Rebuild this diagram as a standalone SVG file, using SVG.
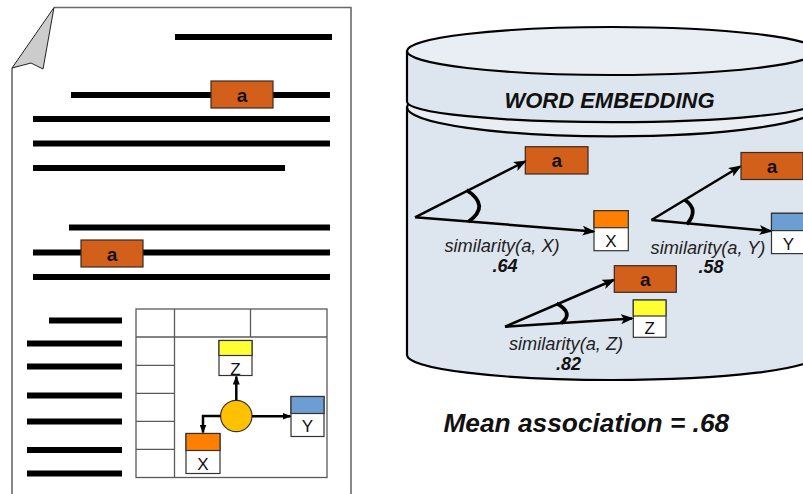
<svg xmlns="http://www.w3.org/2000/svg" width="803" height="494" viewBox="0 0 803 494">
<defs>
<style>
.tl{stroke:#000;stroke-width:6;fill:none}
.abox{fill:#d2601b;stroke:#3a2a20;stroke-width:1.2}
.at{font-family:"Liberation Sans",Arial,sans-serif;font-weight:bold;font-size:19px;fill:#111;text-anchor:middle}
.bt{font-family:"Liberation Sans",Arial,sans-serif;font-size:17px;fill:#111;text-anchor:middle}
.wb{fill:#fff;stroke:#333;stroke-width:1.2}
.sim{font-family:"Liberation Sans",Arial,sans-serif;font-style:italic;font-size:18.2px;fill:#222;text-anchor:middle}
.num{font-family:"Liberation Sans",Arial,sans-serif;font-style:italic;font-weight:bold;font-size:18px;fill:#111;text-anchor:middle}
.arr{stroke:#000;stroke-width:2.5;fill:none;marker-end:url(#ah)}
.arr2{stroke:#000;stroke-width:2.5;fill:none;marker-end:url(#ah2)}
.ang{stroke:#000;stroke-width:3.8;fill:none}
.cyl{stroke:#000;stroke-width:2.2}
.tbl{stroke:#5a5a5a;stroke-width:1.3;fill:none}
</style>
<marker id="ah" viewBox="0 0 13 10" refX="11" refY="5" markerWidth="13" markerHeight="10" markerUnits="userSpaceOnUse" orient="auto">
<path d="M0,0 L13,5 L0,10 L3,5 Z" fill="#000"/>
</marker>
<marker id="ah2" viewBox="0 0 9 7" refX="8" refY="3.5" markerWidth="9" markerHeight="7" markerUnits="userSpaceOnUse" orient="auto">
<path d="M0,0 L9,3.5 L0,7 Z" fill="#000"/>
</marker>
</defs>
<rect width="803" height="494" fill="#fff"/>

<g id="document">
<path d="M54,7.5 L351,7.5 L351,500 L12,500 L12,68" fill="#fff" stroke="#6b6b6b" stroke-width="1.6"/>
<path d="M54,7.5 L12,68 L31,63 L43,69 Z" fill="#cccccc" stroke="#222" stroke-width="1"/>
<line class="tl" x1="175" y1="37" x2="332" y2="37"/>
<line class="tl" x1="71" y1="95" x2="330" y2="95"/>
<line class="tl" x1="33" y1="119" x2="330" y2="119"/>
<line class="tl" x1="33" y1="143.5" x2="330" y2="143.5"/>
<line class="tl" x1="33" y1="168" x2="285" y2="168"/>
<line class="tl" x1="69" y1="227.5" x2="330" y2="227.5"/>
<line class="tl" x1="33" y1="252.5" x2="330" y2="252.5"/>
<line class="tl" x1="33" y1="277" x2="330" y2="277"/>
<line class="tl" x1="49" y1="320.5" x2="122" y2="320.5"/>
<line class="tl" x1="27" y1="343.5" x2="122" y2="343.5"/>
<line class="tl" x1="27" y1="366.5" x2="122" y2="366.5"/>
<line class="tl" x1="27" y1="395.5" x2="122" y2="395.5"/>
<line class="tl" x1="27" y1="421.5" x2="122" y2="421.5"/>
<line class="tl" x1="27" y1="450" x2="122" y2="450"/>
<line class="tl" x1="27" y1="473.5" x2="122" y2="473.5"/>
</g>

<g id="doc-a1">
<rect class="abox" x="211" y="81" width="62" height="27"/>
<text class="at" x="242" y="101.5">a</text>
</g>
<g id="doc-a2">
<rect class="abox" x="81" y="240" width="62" height="27"/>
<text class="at" x="112" y="260.5">a</text>
</g>

<g id="table">
<rect class="tbl" x="136" y="309" width="191" height="168.5"/>
<line class="tbl" x1="136" y1="337" x2="327" y2="337"/>
<line class="tbl" x1="174.5" y1="309" x2="174.5" y2="477.5"/>
<line class="tbl" x1="250.5" y1="309" x2="250.5" y2="337"/>
<line class="tbl" x1="136" y1="365.3" x2="174.5" y2="365.3"/>
<line class="tbl" x1="136" y1="393.3" x2="174.5" y2="393.3"/>
<line class="tbl" x1="136" y1="421.3" x2="174.5" y2="421.3"/>
<line class="tbl" x1="136" y1="449.3" x2="174.5" y2="449.3"/>
</g>

<g id="tbl-z">
<rect class="wb" x="219" y="340.5" width="33" height="35"/>
<rect x="219" y="340.5" width="33" height="15" fill="#ffff33" stroke="#333" stroke-width="1.2"/>
<text class="bt" x="235.5" y="375">Z</text>
</g>
<g id="tbl-y">
<rect class="wb" x="291" y="396.5" width="33" height="40"/>
<rect x="291" y="396.5" width="33" height="17" fill="#6d9ed1" stroke="#333" stroke-width="1.2"/>
<text class="bt" x="307.5" y="432">Y</text>
</g>
<g id="tbl-x">
<rect class="wb" x="186" y="433.5" width="34" height="40"/>
<rect x="186" y="433.5" width="34" height="17" fill="#ff8000" stroke="#333" stroke-width="1.2"/>
<text class="bt" x="203" y="470">X</text>
</g>
<g id="tbl-hub">
<circle cx="236.3" cy="416" r="15.7" fill="#ffc000" stroke="#333" stroke-width="1.2"/>
</g>

<g id="cylinder">
<path class="cyl" d="M407,107.3 L407,355 A205,25 0 0 0 817,355 L817,107.3 Z" fill="#dde5ef"/>
<ellipse class="cyl" cx="612" cy="107.3" rx="205" ry="29" fill="#e9eef4"/>
<path class="cyl" d="M407,51 L407,101.7 A205,20.5 0 0 0 817,101.7 L817,51 Z" fill="#dde5ef"/>
<ellipse class="cyl" cx="612" cy="51" rx="205" ry="24" fill="#e9eef4"/>
<text x="609.5" y="108" font-family="Liberation Sans,Arial,sans-serif" font-style="italic" font-weight="bold" font-size="22" fill="#111" text-anchor="middle">WORD EMBEDDING</text>
</g>

<g id="emb-a1">
<rect class="abox" x="525.3" y="146.7" width="62.7" height="27.3"/>
<text class="at" x="556.7" y="167.3">a</text>
</g>
<g id="emb-a2">
<rect class="abox" x="741" y="152.5" width="62" height="27"/>
<text class="at" x="772" y="173">a</text>
</g>
<g id="emb-a3">
<rect class="abox" x="614.3" y="265.7" width="62" height="26.6"/>
<text class="at" x="645.3" y="286">a</text>
</g>
<g id="emb-x">
<rect class="wb" x="594" y="210.7" width="34.3" height="40"/>
<rect x="594" y="210.7" width="34.3" height="17" fill="#ff8000" stroke="#333" stroke-width="1.2"/>
<text class="bt" x="611" y="247">X</text>
</g>
<g id="emb-y">
<rect class="wb" x="771.5" y="213.3" width="34" height="40.3"/>
<rect x="771.5" y="213.3" width="34" height="17.3" fill="#6d9ed1" stroke="#333" stroke-width="1.2"/>
<text class="bt" x="788.5" y="250">Y</text>
</g>
<g id="emb-z">
<rect class="wb" x="633.3" y="300" width="32.7" height="37.3"/>
<rect x="633.3" y="300" width="32.7" height="16" fill="#ffff33" stroke="#333" stroke-width="1.2"/>
<text class="bt" x="649.7" y="333.5">Z</text>
</g>

<g id="connectors">
<line class="arr2" x1="236.3" y1="400.3" x2="236.3" y2="376.5"/>
<line class="arr2" x1="252" y1="416.3" x2="290.5" y2="416.3"/>
<polyline class="arr2" points="220.6,416 203,416 203,432.5"/>
<line class="arr" x1="415" y1="217.3" x2="525" y2="161.5"/>
<line class="arr" x1="415" y1="217.3" x2="593.5" y2="231.5"/>
<path class="ang" d="M466.5,190 Q491,206 468.3,221.7"/>
<line class="arr" x1="651.5" y1="220" x2="740" y2="166.5"/>
<line class="arr" x1="651.5" y1="220" x2="770.5" y2="231"/>
<path class="ang" d="M685,200 Q699.6,210 686.7,224.3"/>
<line class="arr" x1="505" y1="326.7" x2="613.5" y2="280"/>
<line class="arr" x1="505" y1="326.7" x2="632" y2="318.5"/>
<path class="ang" d="M556.7,303.3 Q574.6,313.3 561,323.3"/>
</g>

<g id="labels">
<text class="sim" x="502" y="251.7">similarity(a, X)</text>
<text class="num" x="505" y="271.7">.64</text>
<text class="sim" x="708" y="254">similarity(a, Y)</text>
<text class="num" x="711" y="273.3">.58</text>
<text class="sim" x="566" y="350">similarity(a, Z)</text>
<text class="num" x="568.5" y="370">.82</text>
<text x="586.3" y="431.7" font-family="Liberation Sans,Arial,sans-serif" font-style="italic" font-weight="bold" font-size="26.3" fill="#111" text-anchor="middle">Mean association = .68</text>
</g>
</svg>
